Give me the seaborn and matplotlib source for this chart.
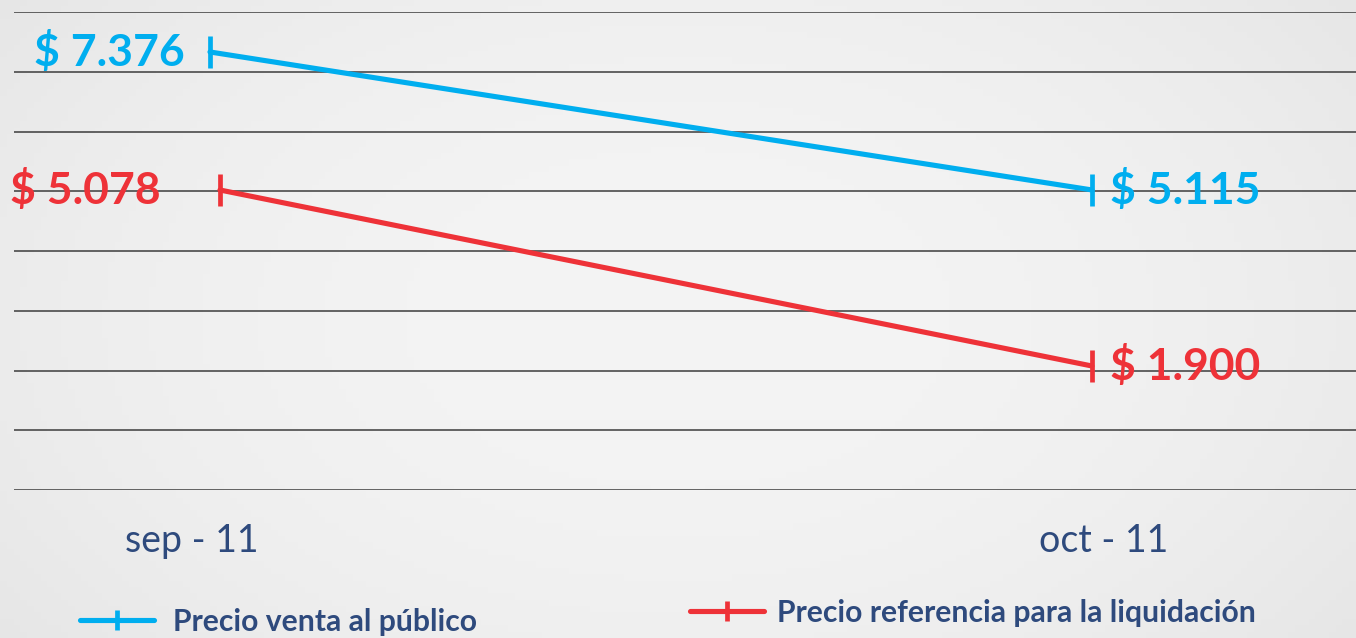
import numpy as np
import matplotlib
matplotlib.use("Agg")
import matplotlib.pyplot as plt
import matplotlib.transforms as mtransforms
import seaborn as sns

# Data
periodos = ["sep - 11", "oct - 11"]
precio_publico = [7376, 5115]
precio_liquidacion = [5078, 1900]
serie_publico = "Precio venta al público"
serie_liquidacion = "Precio referencia para la liquidación"

# Style
sns.set_style("white")
plt.rcParams['font.family'] = ['Lato', 'DejaVu Sans']

azul = "#00AEEF"
rojo = "#EE3238"
navy = "#2E4A7D"
W, H = 1356, 638


def fmt(v):
    return "$ " + f"{v:,}".replace(",", ".")


fig = plt.figure(figsize=(W / 100, H / 100), dpi=100)

# light grey gradient background
bg = fig.add_axes([0, 0, 1, 1], zorder=-10)
gx = np.linspace(-1, 1, 200)
gy = np.linspace(-1, 1, 100)
GX, GY = np.meshgrid(gx, gy)
shade = 0.955 - 0.035 * (GX ** 2) - 0.02 * (GY ** 2)
bg.imshow(shade, cmap="gray", vmin=0, vmax=1, aspect="auto", extent=[0, 1, 0, 1])
bg.axis("off")

rect = [14 / W, 1 - 490 / H, 1 - 14 / W, (490 - 12) / H]
ax = fig.add_axes(rect)
ax.patch.set_alpha(0)
ax2 = fig.add_axes(rect, frameon=False)
ax2.patch.set_alpha(0)

x = [0, 1]
line_kw = dict(linewidth=3.7, marker="|", markersize=23, markeredgewidth=3.4)
sns.lineplot(x=x, y=precio_publico, ax=ax, color=azul, markeredgecolor=azul, **line_kw)
sns.lineplot(x=x, y=precio_liquidacion, ax=ax2, color=rojo, markeredgecolor=rojo, **line_kw)

# axis ranges (two independent scales, like the original chart)
ax.set_xlim(-0.2222, 1.2993)
ax.set_ylim(199, 8031)
ax2.set_xlim(-0.2362, 1.3028)
ax2.set_ylim(-339, 8292)

ax.set_yticks(np.linspace(199, 8031, 9))
ax.yaxis.grid(True, color="#3c3c3c", linewidth=1.1)
ax.xaxis.grid(False)
ax.tick_params(axis="y", length=0, labelleft=False)
for s in ax.spines.values():
    s.set_visible(False)
ax2.axis("off")

ax.set_xticks(x)
ax.set_xticklabels(periodos, fontsize=27, color=navy)
ax.tick_params(axis="x", length=0, pad=24)
for lab, dx in zip(ax.get_xticklabels(), [-18, 12]):
    lab.set_transform(lab.get_transform() + mtransforms.ScaledTranslation(dx / 100, 0, fig.dpi_scale_trans))

# value labels
lbl = dict(fontsize=32, fontweight="bold", va="center", textcoords="offset points")
ax.annotate(fmt(precio_publico[0]), (0, precio_publico[0]), xytext=(-18, 0), ha="right", color=azul, **lbl)
ax.annotate(fmt(precio_publico[1]), (1, precio_publico[1]), xytext=(13, 0), ha="left", color=azul, **lbl)
ax2.annotate(fmt(precio_liquidacion[0]), (0, precio_liquidacion[0]), xytext=(-43, 0), ha="right", color=rojo, **lbl)
ax2.annotate(fmt(precio_liquidacion[1]), (1, precio_liquidacion[1]), xytext=(13, 0), ha="left", color=rojo, **lbl)

# legends (placed separately, as in the original)
leg_kw = dict(frameon=False, loc="center left", borderpad=0, borderaxespad=0,
              handlelength=2.45, markerscale=0.65,
              prop={"size": 21.7, "weight": "bold"}, labelcolor=navy,
              bbox_transform=fig.transFigure)
ax.legend([ax.lines[0]], [serie_publico], bbox_to_anchor=(80 / W, 1 - 622 / H),
          handletextpad=0.65, **leg_kw)
ax2.legend([ax2.lines[0]], [serie_liquidacion], bbox_to_anchor=(690 / W, 1 - 613 / H),
           handletextpad=0.45, **leg_kw)

fig.savefig("out.png", dpi=100)
